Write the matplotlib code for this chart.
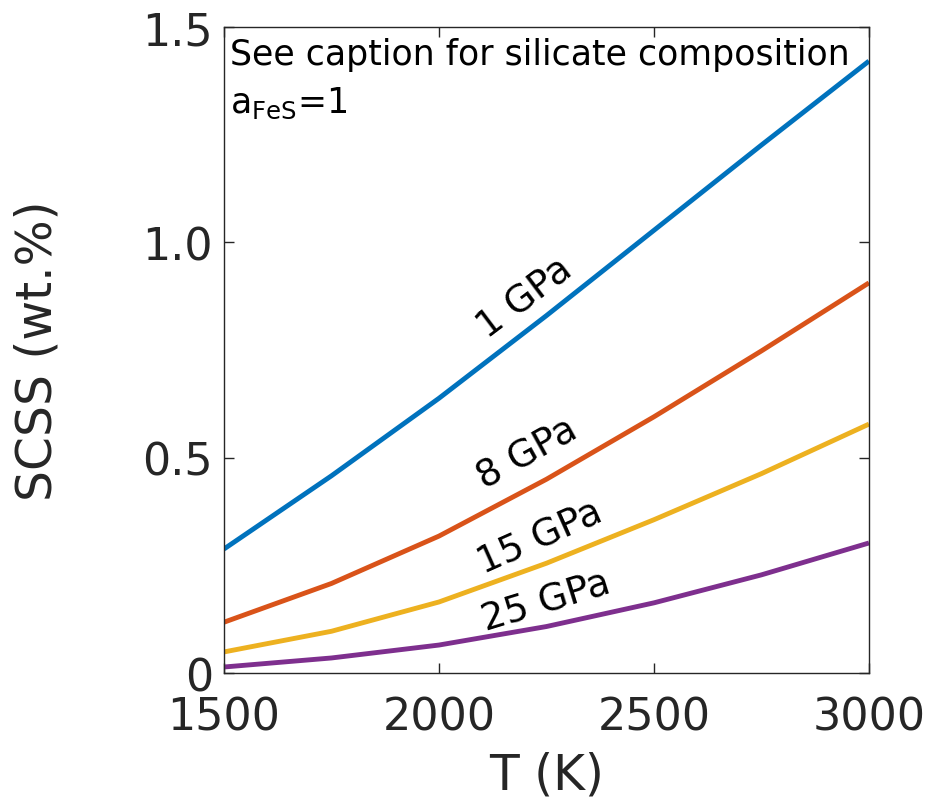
import matplotlib
matplotlib.use("Agg")
import matplotlib.pyplot as plt

T = [1500, 1750, 2000, 2250, 2500, 2750, 3000]

# SCSS (wt.%) for each pressure
scss_1 = [0.288, 0.458, 0.638, 0.830, 1.028, 1.226, 1.421]
scss_8 = [0.118, 0.208, 0.318, 0.450, 0.595, 0.748, 0.906]
scss_15 = [0.049, 0.097, 0.165, 0.255, 0.356, 0.463, 0.578]
scss_25 = [0.014, 0.035, 0.065, 0.108, 0.163, 0.228, 0.302]

series = [scss_1, scss_8, scss_15, scss_25]
names = ["1 GPa", "8 GPa", "15 GPa", "25 GPa"]
colors = ["#0072BD", "#D95319", "#EDB120", "#7E2F8E"]

# label anchor (T, SCSS) and angle
label_pos = [(2200, 0.87), (2205, 0.51), (2235, 0.315), (2250, 0.165)]
label_rot = [37, 29, 24, 17]

fig = plt.figure(figsize=(9.26, 8.03), dpi=100)
ax = fig.add_axes([0.2419, 0.1606, 0.6965, 0.8045])

for y, c in zip(series, colors):
    ax.plot(T, y, color=c, lw=3.5, solid_capstyle="butt",
            solid_joinstyle="round")

for name, (x, y), r in zip(names, label_pos, label_rot):
    ax.text(x, y, name, rotation=r, rotation_mode="anchor",
            ha="center", va="center", fontsize=27, color="black")

ax.text(0.009, 0.985, "See caption for silicate composition",
        transform=ax.transAxes, ha="left", va="top", fontsize=25)
ax.text(0.009, 0.91, r"a$_{\mathregular{FeS}}$=1",
        transform=ax.transAxes, ha="left", va="top", fontsize=25)

ax.set_xlim(1500, 3000)
ax.set_ylim(0, 1.5)
ax.set_xticks([1500, 2000, 2500, 3000])
ax.set_yticks([0, 0.5, 1.0, 1.5])
ax.set_yticklabels(["0", "0.5", "1.0", "1.5"])
ax.tick_params(direction="in", top=True, right=True, length=7, width=1,
               labelsize=32, colors="#262626", pad=8)
ax.tick_params(axis="x", pad=16)
for s in ax.spines.values():
    s.set_color("#262626")
    s.set_linewidth(1)

ax.set_xlabel("T (K)", fontsize=35, color="#262626", labelpad=9)
ax.set_ylabel("SCSS (wt.%)", fontsize=35, color="#262626", labelpad=58)

fig.savefig("out.png", dpi=100)
